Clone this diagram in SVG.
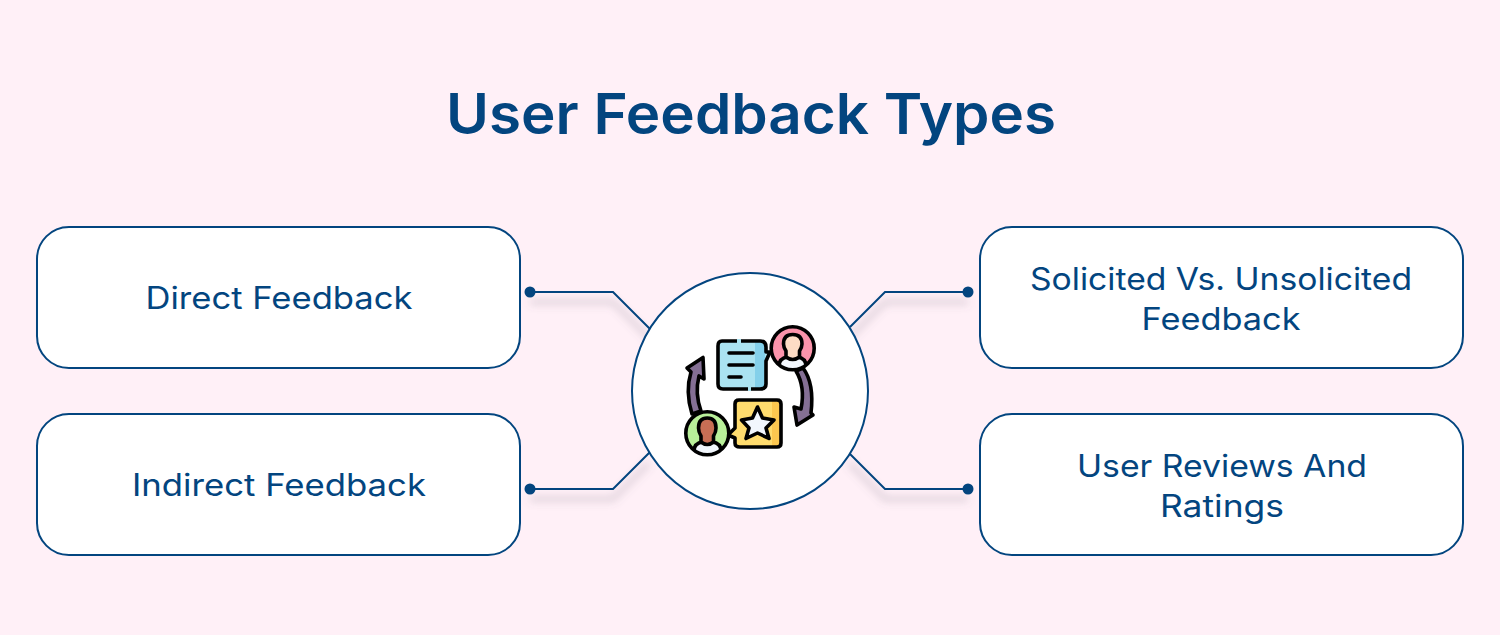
<svg xmlns="http://www.w3.org/2000/svg" width="1500" height="635" viewBox="0 0 1500 635">
<defs>
<filter id="sh" x="-30%" y="-60%" width="160%" height="220%"><feGaussianBlur stdDeviation="4"/></filter>
<clipPath id="cp"><circle cx="792.700" cy="348.300" r="21.500"/></clipPath>
<clipPath id="cg"><circle cx="707.300" cy="433.300" r="21.500"/></clipPath>
</defs>
<style>
.box{fill:#fff;stroke:#03457f;stroke-width:2}
.lbl{font-family:Inter,"Open Sans",sans-serif;font-size:31px;font-weight:400;fill:#03457f;text-anchor:middle}
.ttl{font-family:Inter,"Open Sans",sans-serif;font-size:56px;font-weight:600;fill:#03457f;text-anchor:middle}
.ln{fill:none;stroke:#03457f;stroke-width:2}
.shd{fill:none;stroke:#6e6478;stroke-opacity:.3;stroke-width:4;filter:url(#sh)}
.dot{fill:#03457f}
.i{stroke:#000;stroke-width:3.6;stroke-linejoin:round;stroke-linecap:round}
.n{fill:none;stroke:#000;stroke-width:3.6;stroke-linecap:round;stroke-linejoin:round}
</style>
<rect width="1500" height="635" fill="#fff0f7"/>
<text class="ttl" x="751" y="134" textLength="610" lengthAdjust="spacingAndGlyphs">User Feedback Types</text>
<g id="connectors">
<path class="shd" d="M530 302H613L649 338M530 499H613L649 463M968 302H885L849 338M968 499H885L849 463"/>
<path class="ln" d="M530 292H613L650 329"/>
<path class="ln" d="M530 489H613L650 452"/>
<path class="ln" d="M968 292H885L850 327"/>
<path class="ln" d="M968 489H885L850 454"/>
<circle class="dot" cx="530" cy="292" r="5.500"/>
<circle class="dot" cx="530" cy="489" r="5.500"/>
<circle class="dot" cx="968" cy="292" r="5.500"/>
<circle class="dot" cx="968" cy="489" r="5.500"/>
</g>
<g id="node-direct">
<rect class="box" x="37" y="227" width="483" height="141" rx="32"/>
<text class="lbl" x="279" y="309" textLength="267" lengthAdjust="spacingAndGlyphs">Direct Feedback</text>
</g>
<g id="node-indirect">
<rect class="box" x="37" y="414" width="483" height="141" rx="32"/>
<text class="lbl" x="279" y="496" textLength="294" lengthAdjust="spacingAndGlyphs">Indirect Feedback</text>
</g>
<g id="node-solicited">
<rect class="box" x="980" y="227" width="483" height="141" rx="32"/>
<text class="lbl" x="1221" y="290" textLength="382" lengthAdjust="spacingAndGlyphs">Solicited Vs. Unsolicited</text>
<text class="lbl" x="1221" y="330" textLength="159" lengthAdjust="spacingAndGlyphs">Feedback</text>
</g>
<g id="node-reviews">
<rect class="box" x="980" y="414" width="483" height="141" rx="32"/>
<text class="lbl" x="1222" y="477" textLength="290" lengthAdjust="spacingAndGlyphs">User Reviews And</text>
<text class="lbl" x="1222" y="517" textLength="124" lengthAdjust="spacingAndGlyphs">Ratings</text>
</g>
<g id="node-center">
<circle cx="750" cy="391" r="118" fill="#fff" stroke="#03457f" stroke-width="2"/>
<g id="icon">
<path class="i" fill="#846f94" d="M692 414C687 398 687 385 691 372L687 368L703 357.500L704 379L699 376C696 388 697 400 701 411Z"/>
<path class="i" fill="#846f94" d="M803 368C812 380 813 396 811 413L813 415L797 425L794 407L801 409C804 394 802 381 796 371Z"/>
<path fill="#abe3f1" d="M722 341H760Q766 341 766 347V352L770 352L766 361V384Q766 389 760 389H723Q718 389 718 384V346Q718 341 722 341Z"/>
<path fill="#84d0ea" d="M755 342H760Q765 342 765 347V384Q765 388 760 388H755Z"/>
<path class="n" d="M722 341H760Q766 341 766 347V352L770 352L766 361V384Q766 389 760 389H723Q718 389 718 384V346Q718 341 722 341Z"/>
<path d="M737 339V343H741V339ZM748 387V391H751V387Z" fill="#abe3f1"/>
<path class="n" d="M729 353H753M729 365H753M729 377H741"/>
<path fill="#ffdc6e" d="M739 400H777Q781 400 781 404V443Q781 447 777 447H740Q735 447 735 443V438L728 435L735 428V404Q735 400 739 400Z"/>
<path fill="#fcc74f" d="M772 401H777Q780 401 780 404V443Q780 446 777 446H772Z"/>
<path class="n" d="M739 400H777Q781 400 781 404V443Q781 447 777 447H740Q735 447 735 443V438L728 435L735 428V404Q735 400 739 400Z"/>
<path class="i" fill="#f2f7fd" d="M757.500 407L762.500 418L774 420L766 428L769 438.500L757.500 433L746 438.500L749 428L741.500 420L752.500 418Z"/>
<circle cx="792.700" cy="348.300" r="21.500" fill="#fb93ab"/>
<g clip-path="url(#cp)">
<path class="i" fill="#f2f7fd" d="M779 372V366Q779 358 788 357H797Q806 358 806 366V372Z"/>
</g>
<path class="i" fill="#fddcc5" d="M786 357V351Q783.500 347 783.500 344Q783.500 334.500 792.700 334.500Q802 334.500 802 344Q802 347 799.500 351V357Q792.700 362 786 357Z"/>
<circle class="n" cx="792.700" cy="348.300" r="21.500"/>
<circle cx="707.300" cy="433.300" r="21.500" fill="#b9f09a"/>
<g clip-path="url(#cg)">
<path class="i" fill="#f2f7fd" d="M694 458V451Q694 443 703 442H712Q721 443 721 451V458Z"/>
</g>
<path class="i" fill="#c76e55" d="M701 442V436Q698.500 432 698.500 428Q698.500 418 707.300 418Q716 418 716 428Q716 432 713.500 436V442Q707.300 447 701 442Z"/>
<circle class="n" cx="707.300" cy="433.300" r="21.500"/>
</g>
</g>
</svg>
